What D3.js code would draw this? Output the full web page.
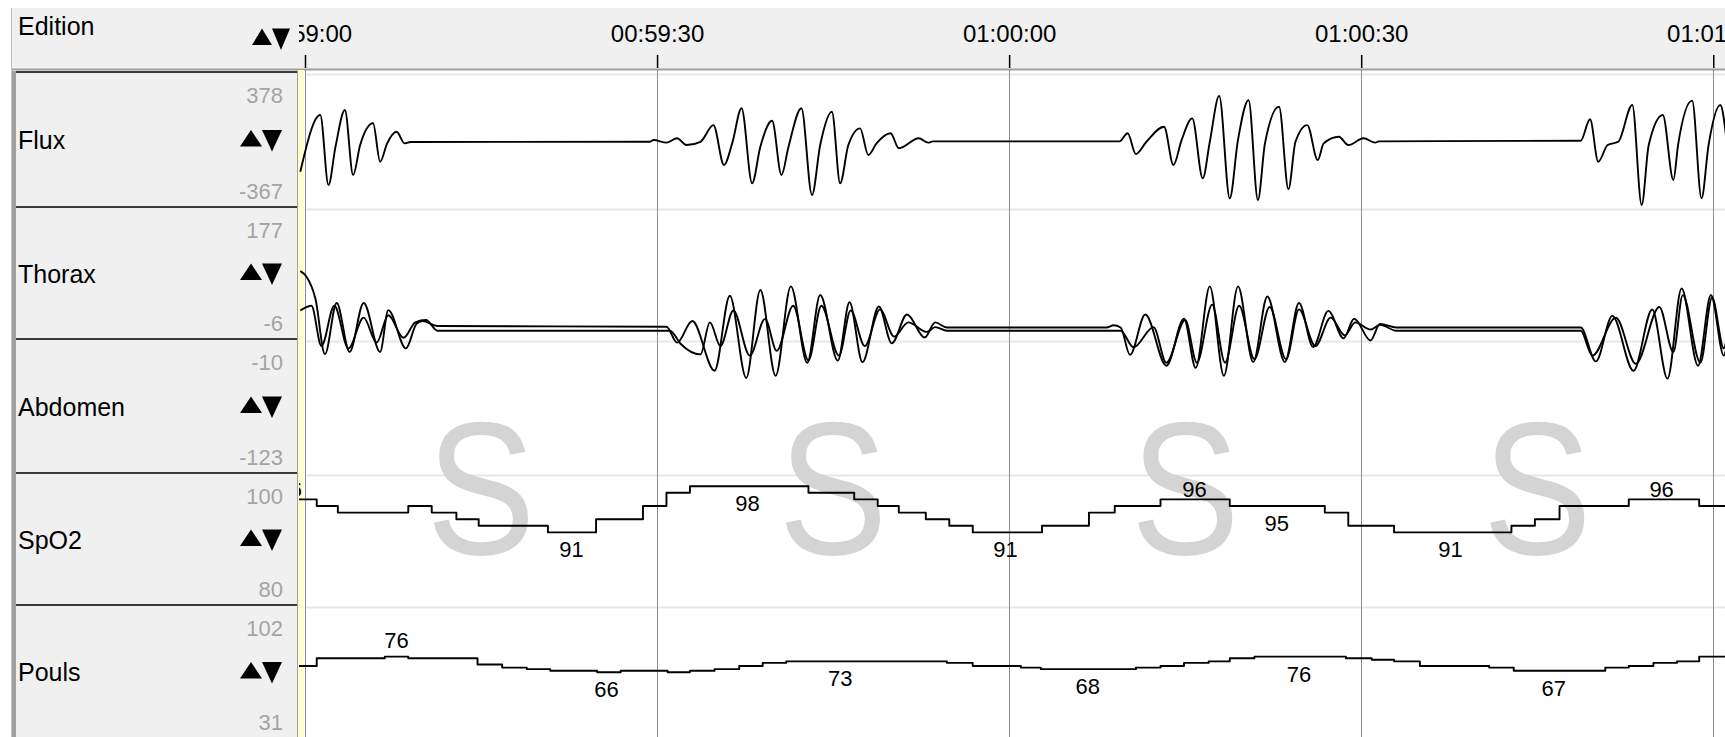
<!DOCTYPE html>
<html>
<head>
<meta charset="utf-8">
<script src="https://cdn.jsdelivr.net/npm/d3@7"></script>
<style>
    body { margin: 0; background: #fff; overflow: hidden; }
    svg { display: block; font-family: "Liberation Sans", Arial, sans-serif; }
</style>
</head>
<body>
<div id="chart"></div>
<script>
// channels shown in the left panel
const channelNames = ['Flux', 'Thorax', 'Abdomen', 'SpO2', 'Pouls'];
const scaleTop = [378, 177, -10, 100, 102];
const scaleBottom = [-367, -6, -123, 80, 31];

// time is in seconds after 00:59:00
const startClock = 3540;
const tickSeconds = [0, 30, 60, 90, 120];
const stageEpochs = [0, 30, 60, 90];
const stageLabels = ['S', 'S', 'S', 'S'];

// [seconds, value]
const flux = [
    [-0.4, -172], [1.3, 141], [2.0, -246], [2.6, -34], [3.4, 168], [4.1, -190], [4.7, -25], [5.8, 95],
    [6.4, -117], [7.0, -16], [7.8, 48], [8.5, -16], [9.0, -8],
    [29.4, -7], [29.7, 3], [30.8, -12], [31.7, 12], [32.5, -25], [33.7, -7], [34.8, 85], [35.7, -135],
    [36.4, -16], [37.2, 178], [38.1, -236], [38.8, -34], [39.8, 109], [40.6, -190], [41.2, -34], [42.3, 178],
    [43.2, -301], [43.9, -25], [44.9, 159], [45.6, -236], [46.3, -25], [47.3, 67], [48.0, -80], [48.7, -16],
    [49.9, 40], [50.6, -43], [52.3, 12], [53.1, -12], [53.5, -5],
    [69.4, -5], [70.1, 40], [70.8, -75], [71.7, -7], [73.2, 76], [74.0, -135], [74.7, 3], [75.6, 122],
    [76.5, -209], [77.1, -7], [77.9, 246], [78.8, -319], [79.5, 3], [80.4, 223], [81.2, -328], [81.8, -16],
    [83.0, 186], [83.8, -269], [84.4, -7], [85.4, 85], [86.3, -108], [86.8, -16], [88.1, 21], [88.9, -25],
    [90.2, 12], [91.2, -12], [91.5, -5],
    [108.7, -1], [109.5, 117], [110.2, -117], [111.0, -25], [111.9, -7], [113.1, 196], [113.9, -356],
    [114.5, -25], [115.7, 141], [116.6, -218], [117.0, -25], [118.2, 220], [119.0, -319], [119.6, -25],
    [120.6, 196], [121.1, 21]
];

const thorax = [
    [-0.4, 88], [0.1, 81], [0.9, 49], [1.7, -27], [2.7, 44], [3.8, -24], [5.0, 44], [6.4, -24], [7.1, 34],
    [8.6, -19], [9.5, 15], [10.0, 19], [11.3, 12],
    [30.8, 11], [31.7, -11], [33.0, 19], [34.9, -50], [36.2, 54], [37.6, -60], [38.8, 62], [40.1, -57],
    [41.4, 67], [42.8, -39], [43.9, 55], [45.4, -36], [46.4, 45], [47.5, -38], [48.9, 39], [50.0, -12],
    [51.3, 28], [52.8, -4], [53.7, 17], [54.7, 10],
    [68.3, 10], [68.9, 13], [69.5, 10], [70.3, -28], [71.6, 28], [73.4, -43], [74.9, 22], [75.9, -46],
    [77.1, 67], [78.3, -57], [79.5, 67], [80.8, -38], [82.0, 53], [83.5, -38], [84.7, 44], [85.9, -17],
    [87.2, 33], [88.5, -5], [89.4, 22], [90.8, -8], [91.6, 15], [93.0, 10],
    [108.7, 10], [110.0, -37], [111.4, 26], [113.2, -50], [114.8, 35], [116.1, -61], [117.3, 64],
    [118.7, -43], [119.8, 55], [120.9, -29], [121.1, -20]
];

const abdomen = [
    [-0.4, 14], [0.55, 18], [1.4, -16], [2.5, 18], [3.7, -18], [5.0, 8], [6.1, -13], [7.1, 10], [8.4, -9],
    [9.4, 4], [10.3, 6], [11.3, -3],
    [31.1, -3], [32.0, -14], [33.7, -23], [34.5, 4], [35.4, -16], [36.5, 14], [37.9, -24], [39.2, 7],
    [40.2, -20], [41.6, 18], [42.9, -28], [44.0, 18], [45.5, -24], [46.5, 14], [47.7, -16], [49.0, 15],
    [50.2, -8], [51.4, 4], [53.0, -4], [53.7, 0], [54.7, -3],
    [69.5, -3], [70.6, -17], [72.3, 0], [73.4, -30], [75.0, 6], [76.0, -30], [77.3, 19], [78.4, -30],
    [79.6, 18], [80.9, -27], [82.2, 17], [83.6, -27], [84.7, 15], [86.1, -16], [87.4, 8], [88.6, -7],
    [89.5, 4], [90.8, -2], [91.6, 2], [93.0, -3],
    [108.7, -3], [109.7, -24], [111.7, 8], [113.4, -31], [115.4, 17], [116.6, -21], [117.4, 27],
    [118.9, -30], [119.9, 25], [120.9, -18], [121.1, -12]
];

const spo2 = [
    [-2, 96], [1.0, 95], [2.8, 94], [8.8, 95], [10.8, 94], [12.9, 93], [14.8, 92], [20.7, 91], [24.8, 93],
    [28.8, 95], [30.8, 97], [32.8, 98], [42.9, 97], [46.8, 96], [48.8, 95], [50.6, 94], [52.9, 93],
    [54.9, 92], [56.9, 91], [62.8, 92], [66.8, 94], [69.0, 95], [72.9, 96], [78.8, 95], [86.9, 94],
    [88.9, 92], [92.8, 91], [102.8, 92], [104.8, 93], [106.9, 95], [112.8, 96], [118.8, 95], [121.5, 95]
];

const pouls = [
    [-2, 70], [1.0, 75], [6.8, 76], [8.8, 75], [14.7, 71], [16.8, 69], [18.9, 68], [20.9, 67], [24.9, 66],
    [26.9, 67], [30.9, 66], [32.8, 67], [34.9, 68], [37.0, 70], [39.0, 72], [41.0, 73], [54.7, 72],
    [56.9, 70], [61.0, 69], [62.7, 68], [70.8, 69], [72.9, 70], [74.9, 72], [77.0, 73], [78.8, 75],
    [80.9, 76], [88.7, 75], [90.9, 74], [92.8, 73], [95.0, 70], [100.9, 69], [103.0, 67], [110.8, 69],
    [112.8, 70], [114.9, 72], [116.9, 73], [118.8, 76], [121.5, 76]
];

// where the software printed a value on the trace
const spo2Marks = [[-1.3, 'above'], [22.7, 'below'], [37.7, 'below'], [59.7, 'below'],
    [75.8, 'above'], [82.8, 'below'], [97.6, 'below'], [115.6, 'above']];
const poulsMarks = [[7.8, 'above'], [25.7, 'below'], [45.6, 'below'], [66.7, 'below'],
    [84.7, 'below'], [106.4, 'below']];

// ---------- layout ----------
const width = 1725, height = 737;
const rowTops = [72, 207, 339, 473, 605, 738];
const tracePad = [0, 0, 0, 0, 11];
const plotLeft = 305;

const svg = d3.select('#chart').append('svg')
    .attr('width', width)
    .attr('height', height);

const x = d3.scaleLinear().domain([0, 121]).range([plotLeft, width]);

function yFor(i) {
    return d3.scaleLinear()
        .domain([scaleBottom[i], scaleTop[i]])
        .range([rowTops[i + 1] - tracePad[i], rowTops[i] + tracePad[i]]);
}

function clock(s) {
    s = startClock + s;
    return [Math.floor(s / 3600), Math.floor(s / 60) % 60, s % 60]
        .map(d => String(d).padStart(2, '0')).join(':');
}

function arrows(g, x0, cy, w) {
    g.append('path')
        .attr('d', `M${x0},${cy + 7}L${x0 + w / 2},${cy - 9.5}L${x0 + w},${cy + 7}Z`)
        .attr('fill', '#000');
    g.append('path')
        .attr('d', `M${x0 + w},${cy - 9.5}L${x0 + 2 * w - 2},${cy - 9.5}L${x0 + 1.5 * w - 1},${cy + 12}Z`)
        .attr('fill', '#000');
}

const defs = svg.append('defs');
defs.append('clipPath').attr('id', 'plotClip')
    .append('rect').attr('x', 299).attr('y', 70).attr('width', width - 299).attr('height', height - 70);
defs.append('clipPath').attr('id', 'headClip')
    .append('rect').attr('x', 299).attr('y', 8).attr('width', width - 299).attr('height', 62);

// header band
svg.append('rect').attr('x', 11).attr('y', 8).attr('width', width - 11).attr('height', 61).attr('fill', '#f0f0f0');
svg.append('line').attr('x1', 11).attr('x2', width).attr('y1', 69.5).attr('y2', 69.5)
    .attr('stroke', '#a0a0a0').attr('stroke-width', 2);
svg.append('line').attr('x1', 11.5).attr('x2', 11.5).attr('y1', 8).attr('y2', height)
    .attr('stroke', '#c0c0c0');
svg.append('text').attr('x', 18).attr('y', 35).attr('font-size', 25).text('Edition');

// left panel
svg.append('rect').attr('x', 12).attr('y', 71).attr('width', 286).attr('height', height - 71).attr('fill', '#f0f0f0');
svg.append('rect').attr('x', 12).attr('y', 71).attr('width', 4).attr('height', height - 71).attr('fill', '#a0a0a0');
svg.append('line').attr('x1', 297.5).attr('x2', 297.5).attr('y1', 70).attr('y2', height).attr('stroke', '#a0a0a0');
svg.append('rect').attr('x', 298).attr('y', 70).attr('width', 6).attr('height', height - 70).attr('fill', '#ffffd0');

const rows = svg.append('g').selectAll('g')
    .data(channelNames)
    .join('g');

rows.append('line')
    .attr('x1', 16).attr('x2', 297)
    .attr('y1', (d, i) => rowTops[i]).attr('y2', (d, i) => rowTops[i])
    .attr('stroke', '#3a3a3a').attr('stroke-width', 2);

rows.append('text')
    .attr('x', 18)
    .attr('y', (d, i) => (rowTops[i] + rowTops[i + 1]) / 2 + 9.5)
    .attr('font-size', 25)
    .text(d => d);

rows.append('text')
    .attr('x', 283).attr('text-anchor', 'end')
    .attr('y', (d, i) => rowTops[i] + 31)
    .attr('font-size', 22).attr('fill', '#a4a4a4')
    .text((d, i) => scaleTop[i]);

rows.append('text')
    .attr('x', 283).attr('text-anchor', 'end')
    .attr('y', (d, i) => rowTops[i + 1] - 8)
    .attr('font-size', 22).attr('fill', '#a4a4a4')
    .text((d, i) => scaleBottom[i]);

rows.each(function (d, i) {
    arrows(d3.select(this), 240, (rowTops[i] + rowTops[i + 1]) / 2, 22);
});

// plot grid
svg.append('g').selectAll('line')
    .data(channelNames)
    .join('line')
    .attr('x1', plotLeft).attr('x2', width)
    .attr('y1', (d, i) => rowTops[i] + 2.5).attr('y2', (d, i) => rowTops[i] + 2.5)
    .attr('stroke', '#e8e8e8').attr('stroke-width', 2);

svg.append('g').selectAll('line')
    .data(tickSeconds)
    .join('line')
    .attr('x1', d => Math.round(x(d)) + 0.5).attr('x2', d => Math.round(x(d)) + 0.5)
    .attr('y1', 70).attr('y2', height)
    .attr('stroke', '#8c8c8c');

// time axis in the header (clip on the outer group, axis moved inside it)
const axis = svg.append('g')
    .attr('clip-path', 'url(#headClip)')
    .append('g')
    .attr('transform', 'translate(0,68)')
    .call(d3.axisTop(x).tickValues(tickSeconds).tickFormat(clock).tickSize(13).tickPadding(13));
axis.select('.domain').remove();
axis.selectAll('text')
    .attr('font-size', 24)
    .attr('font-family', '"Liberation Sans", Arial, sans-serif')
    .attr('fill', '#000');
axis.selectAll('line').attr('stroke', '#000').attr('stroke-width', 1.5);
arrows(svg.append('g'), 252, 38, 20);

// sleep stage letters
svg.append('g').selectAll('text')
    .data(stageEpochs)
    .join('text')
    .attr('transform', d => `translate(${x(d + 15)},554) scale(0.86,1)`)
    .attr('text-anchor', 'middle')
    .attr('font-size', 190)
    .attr('fill', '#d4d4d4')
    .text((d, i) => stageLabels[i]);

// traces
const plot = svg.append('g').attr('clip-path', 'url(#plotClip)');

function trace(data, i, curve) {
    const y = yFor(i);
    plot.append('path')
        .datum(data)
        .attr('fill', 'none')
        .attr('stroke', '#000')
        .attr('stroke-width', 1.9)
        .attr('stroke-linejoin', 'round')
        .attr('d', d3.line().x(d => x(d[0])).y(d => y(d[1])).curve(curve));
}

trace(flux, 0, d3.curveMonotoneX);
trace(thorax, 1, d3.curveMonotoneX);
trace(abdomen, 2, d3.curveMonotoneX);
trace(spo2, 3, d3.curveStepAfter);
trace(pouls, 4, d3.curveStepAfter);

// printed values on SpO2 and pulse
const bisect = d3.bisector(d => d[0]).right;
function marks(data, list, i, aboveGap) {
    const y = yFor(i);
    plot.append('g').selectAll('text')
        .data(list)
        .join('text')
        .attr('x', d => x(d[0]))
        .attr('y', d => {
            const v = data[bisect(data, d[0]) - 1][1];
            return d[1] === 'above' ? y(v) - aboveGap : y(v) + 25;
        })
        .attr('text-anchor', 'middle')
        .attr('font-size', 22)
        .text(d => data[bisect(data, d[0]) - 1][1]);
}

marks(spo2, spo2Marks, 3, 2);
marks(pouls, poulsMarks, 4, 9);
</script>
</body>
</html>
